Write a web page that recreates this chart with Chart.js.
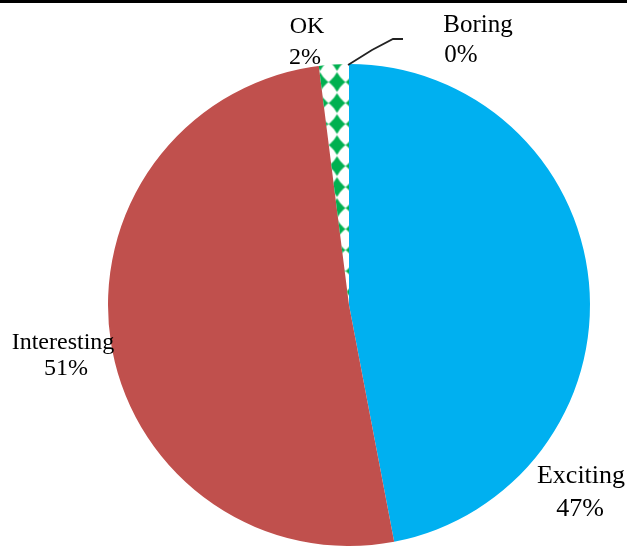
<!DOCTYPE html>
<html>
<head>
<meta charset="utf-8">
<script src="https://cdn.jsdelivr.net/npm/chart.js"></script>
<style>
    html, body { margin: 0; padding: 0; background: #fff; }
    #wrap { width: 627px; height: 547px; position: relative; }
</style>
</head>
<body>
<div id="wrap"><canvas id="pieChart" width="627" height="547"></canvas></div>
<script>
// chart data
const categories = ['Exciting', 'Interesting', 'OK', 'Boring'];
const shares = [47, 51, 2, 0];
const sliceColors = ['#00B0F0', '#C0504D', null, '#FFFFFF'];

// where Excel put each data label (name line, percent line)
const labelSpots = {
    'Exciting':    { size: 26, name: [581, 483], pct: [580, 516] },
    'Interesting': { size: 24, name: [63, 349],  pct: [66, 375] },
    'OK':          { size: 24, name: [307, 33],  pct: [305, 64] },
    'Boring':      { size: 25, name: [478, 32],  pct: [461, 62] }
};

// green diamond fill for the "OK" slice
function diamondPattern(ctx) {
    const tile = document.createElement('canvas');
    tile.width = 17;
    tile.height = 21;
    const t = tile.getContext('2d');
    const cx = 8.5, cy = 10.5;
    t.fillStyle = '#00B050';
    t.beginPath();
    t.moveTo(cx, cy - 10);
    t.quadraticCurveTo(cx + 3.5, cy - 3.5, cx + 8.5, cy);
    t.quadraticCurveTo(cx + 3.5, cy + 3.5, cx, cy + 10);
    t.quadraticCurveTo(cx - 3.5, cy + 3.5, cx - 8.5, cy);
    t.quadraticCurveTo(cx - 3.5, cy - 3.5, cx, cy - 10);
    t.fill();
    const pat = ctx.createPattern(tile, 'repeat');
    pat.setTransform(new DOMMatrix([1, 0, 0, 1, 337 - cx, 82 - cy]));
    return pat;
}

const canvas = document.getElementById('pieChart');
const ctx = canvas.getContext('2d');
const fills = sliceColors.map(c => c || diamondPattern(ctx));

const pieDecor = {
    id: 'pieDecor',
    beforeDraw(chart) {
        const c = chart.ctx;
        c.save();
        c.fillStyle = '#000';
        c.fillRect(0, 0, chart.width, 3);
        c.restore();
    },
    afterDraw(chart) {
        const c = chart.ctx;
        c.save();
        // leader line for the empty "Boring" slice
        c.strokeStyle = '#222';
        c.lineWidth = 1.8;
        c.beginPath();
        c.moveTo(348, 65);
        c.lineTo(372, 50);
        c.lineTo(393, 39);
        c.lineTo(403, 39);
        c.stroke();

        c.fillStyle = '#000';
        c.textAlign = 'center';
        c.textBaseline = 'alphabetic';
        categories.forEach((name, i) => {
            const spot = labelSpots[name];
            c.font = spot.size + 'px "Liberation Serif", "Times New Roman", serif';
            c.fillText(name, spot.name[0], spot.name[1]);
            c.fillText(shares[i] + '%', spot.pct[0], spot.pct[1]);
        });
        c.restore();
    }
};

new Chart(ctx, {
    type: 'pie',
    data: {
        labels: categories,
        datasets: [{
            data: shares,
            backgroundColor: fills,
            borderWidth: 0,
            hoverOffset: 0,
            offset: 0
        }]
    },
    options: {
        responsive: false,
        animation: false,
        devicePixelRatio: 1,
        layout: {
            padding: { top: 64, bottom: 1, left: 108, right: 37 }
        },
        plugins: {
            legend: { display: false },
            tooltip: { enabled: false }
        }
    },
    plugins: [pieDecor]
});
</script>
</body>
</html>
